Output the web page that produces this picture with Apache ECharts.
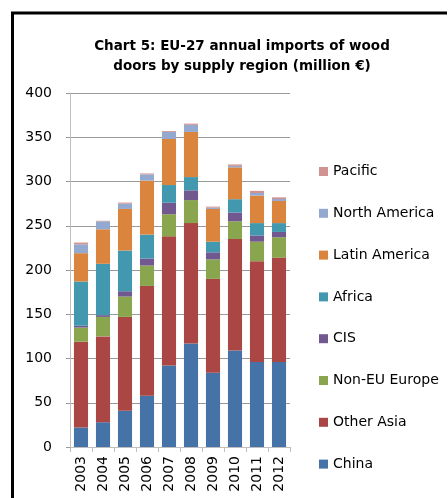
<!DOCTYPE html>
<html>
<head>
<meta charset="utf-8">
<script src="https://cdn.jsdelivr.net/npm/echarts@6/dist/echarts.min.js"></script>
<style>
  html, body { margin: 0; padding: 0; background: #fff; }
  #chart { width: 448px; height: 498px; }
</style>
</head>
<body>
<div id="chart"></div>
<script>
// EU-27 annual imports of wood doors, million euro, by supply region
const years = ['2003', '2004', '2005', '2006', '2007', '2008', '2009', '2010', '2011', '2012'];

const china        = [22, 28, 41, 58, 92, 117, 84, 109, 96, 96];
const otherAsia    = [97, 97, 106, 124, 146, 136, 106, 126, 114, 118];
const nonEuEurope  = [16, 22, 23, 23, 25, 26, 22, 20, 22, 23];
const cis          = [2, 2, 6, 8, 13, 11, 8, 10, 7, 6];
const africa       = [50, 58, 46, 27, 20, 15, 12, 15, 14, 10];
const latinAmerica = [32, 39, 47, 61, 52, 51, 37, 36, 31, 25];
const northAmerica = [10, 9, 6, 7, 8, 8, 1.4, 1.7, 3, 2.2];
const pacific      = [2, 0.6, 1.2, 1.1, 1, 1.4, 1.2, 1.6, 2.4, 1.9];

const yTicks = [0, 50, 100, 150, 200, 250, 300, 350, 400];

const chart = echarts.init(document.getElementById('chart'));

const font = '"DejaVu Sans", sans-serif';

const seriesList = [
  ['China', china, '#4572A7'],
  ['Other Asia', otherAsia, '#AA4643'],
  ['Non-EU Europe', nonEuEurope, '#89A54E'],
  ['CIS', cis, '#71588F'],
  ['Africa', africa, '#4198AF'],
  ['Latin America', latinAmerica, '#DB843D'],
  ['North America', northAmerica, '#93A9CF'],
  ['Pacific', pacific, '#D19392']
];

const option = {
  animation: false,
  backgroundColor: '#fff',
  title: {
    text: 'Chart 5: EU-27 annual imports of wood\ndoors by supply region (million €)',
    left: 237,
    textAlign: 'center',
    top: 31,
    textStyle: {
      fontFamily: font,
      fontSize: 13.5,
      fontWeight: 'bold',
      color: '#000',
      lineHeight: 20
    }
  },
  legend: {
    orient: 'vertical',
    left: 314,
    top: 158,
    itemWidth: 9,
    itemHeight: 9,
    itemGap: 24.8,
    icon: 'rect',
    data: seriesList.map(s => s[0]).reverse(),
    textStyle: { fontFamily: font, fontSize: 14, color: '#000', lineHeight: 17 }
  },
  grid: { left: 70, right: 158, top: 93, bottom: 51 },
  xAxis: {
    type: 'category',
    data: years,
    axisLine: { lineStyle: { color: '#BFBFBF' } },
    axisTick: { show: true, length: 5, lineStyle: { color: '#BFBFBF' } },
    axisLabel: {
      rotate: 90,
      margin: 9,
      fontFamily: font,
      fontSize: 14,
      color: '#000'
    }
  },
  yAxis: {
    type: 'value',
    min: yTicks[0],
    max: yTicks[yTicks.length - 1],
    interval: 50,
    axisLine: { show: true, lineStyle: { color: '#BFBFBF' } },
    axisTick: { show: true, length: 4, lineStyle: { color: '#999' } },
    splitLine: { lineStyle: { color: '#9A9A9A' } },
    axisLabel: {
      margin: 18,
      fontFamily: font,
      fontSize: 14,
      color: '#000'
    }
  },
  series: seriesList.map(([name, values, color]) => ({
    name,
    type: 'bar',
    stack: 'total',
    barCategoryGap: '36%',
    data: values,
    itemStyle: { color }
  })),
  graphic: [
    { type: 'line', shape: { x1: 11, y1: 13, x2: 447, y2: 13 }, style: { stroke: '#000', lineWidth: 3 } },
    { type: 'line', shape: { x1: 12.5, y1: 12, x2: 12.5, y2: 498 }, style: { stroke: '#000', lineWidth: 3 } }
  ]
};

chart.setOption(option);
</script>
</body>
</html>
